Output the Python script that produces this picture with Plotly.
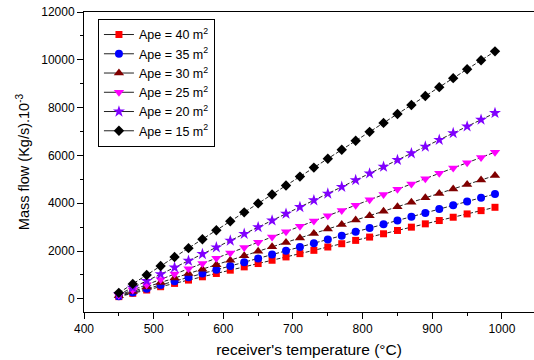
import plotly.graph_objects as go

temperature = [450, 470, 490, 510, 530, 550, 570, 590, 610, 630, 650, 670, 690, 710,
               730, 750, 770, 790, 810, 830, 850, 870, 890, 910, 930, 950, 970, 990]

ape_40 = [93, 231, 370, 508, 646, 785, 923, 1062, 1200, 1338, 1477, 1615, 1754, 1892,
          2030, 2169, 2307, 2446, 2584, 2722, 2861, 2999, 3138, 3276, 3414, 3553, 3691, 3830]
ape_35 = [106, 265, 424, 582, 741, 899, 1058, 1217, 1375, 1534, 1692, 1851, 2010, 2168,
          2327, 2485, 2644, 2803, 2961, 3120, 3278, 3437, 3596, 3754, 3913, 4071, 4230, 4389]
ape_30 = [125, 311, 498, 684, 871, 1057, 1243, 1430, 1616, 1803, 1989, 2175, 2362, 2548,
          2735, 2921, 3107, 3294, 3480, 3667, 3853, 4039, 4226, 4412, 4599, 4785, 4971, 5158]
ape_25 = [149, 370, 592, 814, 1036, 1258, 1479, 1701, 1923, 2145, 2367, 2588, 2810, 3032,
          3254, 3476, 3697, 3919, 4141, 4363, 4585, 4806, 5028, 5250, 5472, 5694, 5915, 6137]
ape_20 = [188, 469, 750, 1031, 1312, 1593, 1874, 2155, 2436, 2717, 2998, 3279, 3560, 3841,
          4122, 4403, 4684, 4965, 5246, 5527, 5808, 6089, 6370, 6651, 6932, 7213, 7494, 7775]
ape_15 = [251, 625, 999, 1373, 1748, 2122, 2496, 2870, 3244, 3619, 3993, 4367, 4741, 5115,
          5490, 5864, 6238, 6612, 6986, 7361, 7735, 8109, 8483, 8857, 9232, 9606, 9980, 10354]

series_names = ["Ape = 40 m<sup>2</sup>", "Ape = 35 m<sup>2</sup>", "Ape = 30 m<sup>2</sup>",
                "Ape = 25 m<sup>2</sup>", "Ape = 20 m<sup>2</sup>", "Ape = 15 m<sup>2</sup>"]
series_values = [ape_40, ape_35, ape_30, ape_25, ape_20, ape_15]
colors = ["#FF0000", "#0000FF", "#800000", "#FF00FF", "#8000FF", "#000000"]
symbols = ["square", "circle", "triangle-up", "triangle-down", "star", "diamond"]
sizes = [7, 8, 9, 9, 9, 8]

fig = go.Figure()
for name, vals, c, s, sz in zip(series_names, series_values, colors, symbols, sizes):
    fig.add_trace(go.Scatter(
        x=temperature, y=vals, name=name, mode="lines+markers", showlegend=False,
        line=dict(color="#222222", width=1, dash="4px,2px"),
        marker=dict(color=c, symbol=s, size=sz, line=dict(width=0)),
        legendgroup=name,
    ))
# legend entries (solid short line with marker, as in the reference legend)
for name, c, s, sz in zip(series_names, colors, symbols, sizes):
    fig.add_trace(go.Scatter(
        x=[None], y=[None], name=name, mode="lines+markers", showlegend=True,
        line=dict(color="#222222", width=1),
        marker=dict(color=c, symbol=s, size=sz, line=dict(width=0)),
        legendgroup=name,
    ))

font_family = "Liberation Sans, Arial, sans-serif"
fig.update_layout(
    width=534, height=360,
    margin=dict(l=84, r=0, t=12, b=48),
    paper_bgcolor="white", plot_bgcolor="white",
    font=dict(family=font_family, size=12, color="black"),
    showlegend=True,
    legend=dict(
        x=0.031, y=0.977, xanchor="left", yanchor="top",
        bordercolor="black", borderwidth=1, bgcolor="white",
        font=dict(size=12.5, family=font_family, color="black"),
        tracegroupgap=0,
    ),
    xaxis=dict(
        range=[400, 1046], dtick=100, tick0=0,
        showline=True, linecolor="black", linewidth=1, mirror=True,
        ticks="outside", ticklen=6, tickwidth=1, tickcolor="black",
        minor=dict(dtick=50, ticks="outside", ticklen=3, tickcolor="black", showgrid=False),
        showgrid=False, zeroline=False,
        tickfont=dict(size=12),
        title=dict(text="receiver's temperature (°C)", font=dict(size=15.5), standoff=8),
    ),
    yaxis=dict(
        range=[-550, 12000], dtick=2000, tick0=0, tickformat="d",
        showline=True, linecolor="black", linewidth=1, mirror=False,
        ticks="outside", ticklen=6, tickwidth=1, tickcolor="black",
        minor=dict(dtick=1000, ticks="outside", ticklen=3, tickcolor="black", showgrid=False),
        showgrid=False, zeroline=False,
        tickfont=dict(size=12),
        title=dict(text="Mass flow (Kg/s).10<sup>-3</sup>", font=dict(size=14.5), standoff=8),
    ),
)

fig.write_html("out.html")
